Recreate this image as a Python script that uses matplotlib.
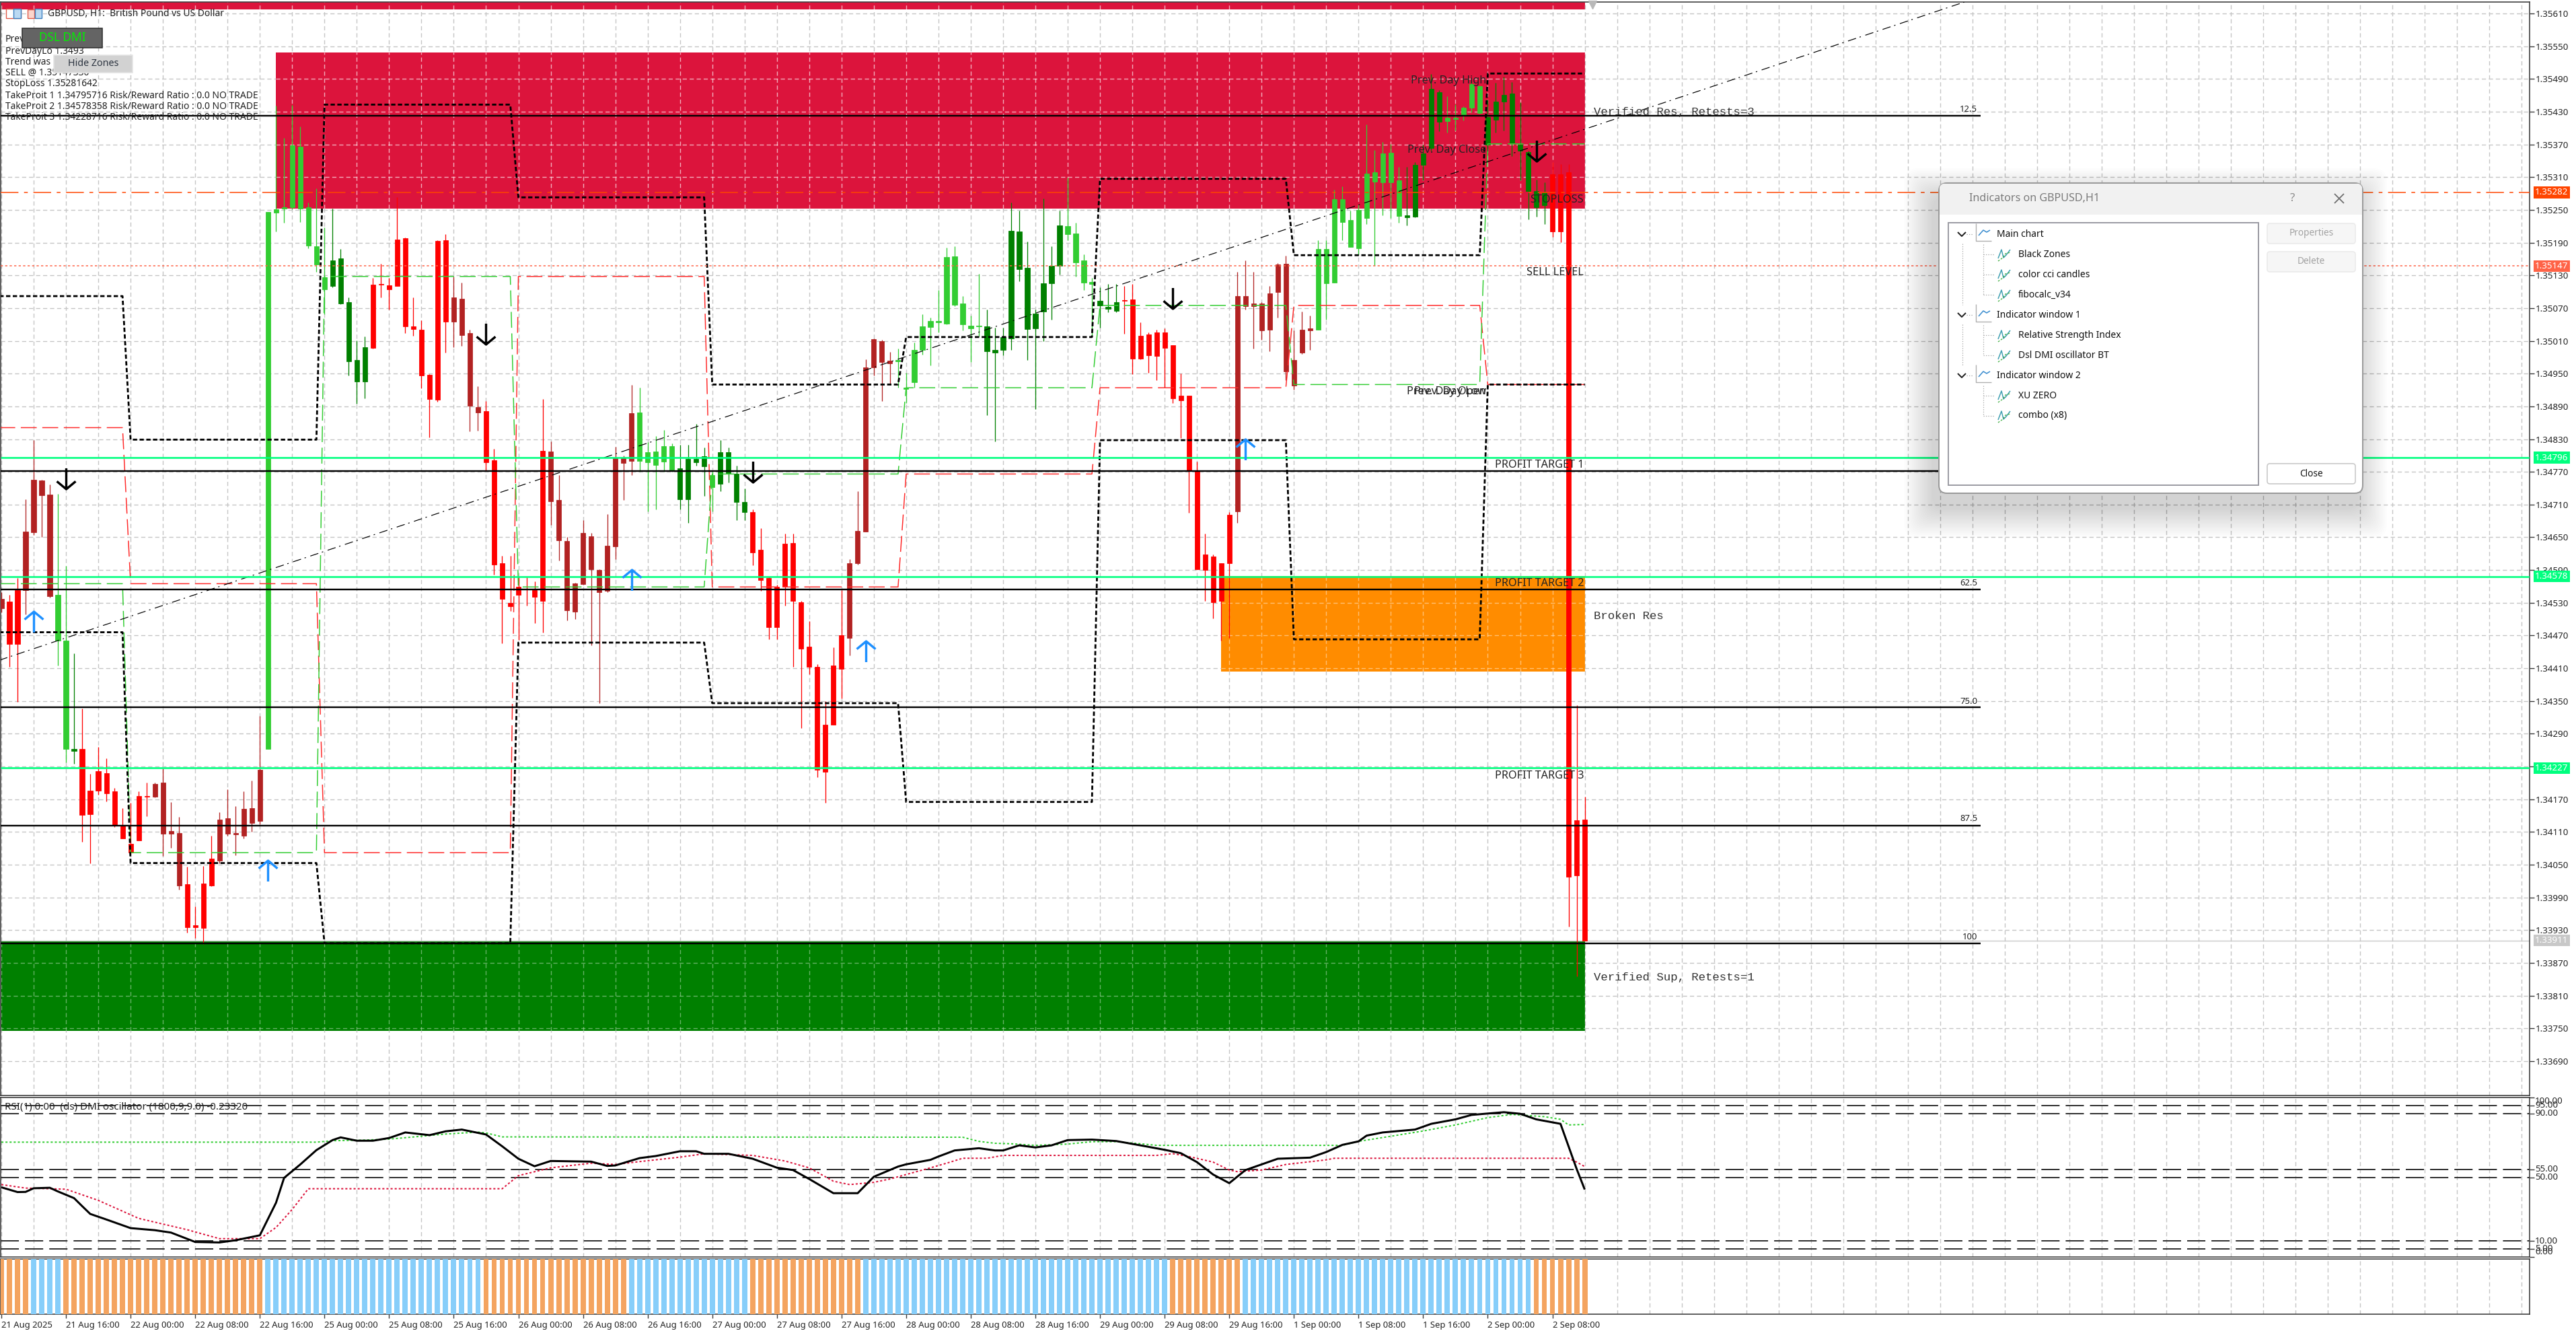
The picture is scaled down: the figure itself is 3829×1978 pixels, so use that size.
"""GBPUSD H1 terminal screenshot rebuilt with matplotlib."""
import numpy as np
import matplotlib

matplotlib.use("Agg")
import matplotlib.pyplot as plt
from matplotlib.patches import Rectangle, FancyBboxPatch
from matplotlib.path import Path

W, H = 3829, 1978
DPI = 100
PX = 72 / DPI  # one image pixel in points

plt.rcParams.update({
    "font.family": ["Noto Sans", "DejaVu Sans"],
    "lines.scale_dashes": False,
    "lines.solid_capstyle": "butt",
    "lines.dash_capstyle": "butt",
    "axes.axisbelow": True,
})

# ---------------------------------------------------------------------------
# Candles, in points above 1.33000
# ---------------------------------------------------------------------------
BODY_TOP = [
    1537, 1532, 1553, 1660, 1756, 1754, 1728, 1545, 1461, 1262,
    1262, 1186, 1222, 1218, 1184, 1121, 1088, 1176, 1176, 1198,
    1200, 1112, 1108, 1014, 939, 1015, 1061, 1133, 1135, 1108,
    1152, 1154, 1224, 2246, 2251, 2255, 2368, 2366, 2255, 2183,
    2127, 2157, 2161, 2081, 1975, 1998, 2113, 2114, 2112, 2196,
    2198, 2037, 2031, 1948, 2193, 2194, 2089, 2087, 2024, 1889,
    1881, 1791, 1602, 1530, 1559, 1556, 1553, 1808, 1807, 1719,
    1643, 1566, 1658, 1652, 1590, 1634, 1795, 1795, 1878, 1879,
    1806, 1807, 1817, 1817, 1776, 1794, 1794, 1798, 1764, 1806,
    1806, 1767, 1715, 1696, 1627, 1575, 1559, 1638, 1640, 1531,
    1449, 1413, 1306, 1415, 1470, 1602, 1662, 1961, 2013, 2009,
    1974, 1975, 1924, 1994, 2037, 2046, 2046, 2163, 2165, 2078,
    2038, 2038, 2037, 1994, 2017, 2212, 2210, 2144, 2060, 2116,
    2147, 2222, 2220, 2207, 2157, 2118, 2084, 2072, 2081, 2085,
    2086, 2019, 2022, 2026, 2026, 2002, 1910, 1910, 1772, 1619,
    1615, 1602, 1691, 2092, 2092, 2079, 2079, 2097, 2150, 2151,
    1975, 2031, 2033, 2179, 2179, 2270, 2270, 2231, 2250, 2316,
    2319, 2353, 2355, 2304, 2240, 2332, 2353, 2472, 2466, 2419,
    2419, 2437, 2480, 2477, 2420, 2448, 2461, 2463, 2370, 2356,
    2284, 2282, 2315, 2315, 2319, 1131, 1133,
]
BODY_BOT = [
    1520, 1454, 1454, 1553, 1659, 1727, 1542, 1461, 1262, 1259,
    1141, 1142, 1186, 1181, 1121, 1098, 1072, 1095, 1174, 1174,
    1107, 1107, 1012, 935, 935, 934, 1012, 1057, 1107, 1106,
    1103, 1127, 1130, 1262, 2245, 2253, 2255, 2253, 2184, 2150,
    2104, 2111, 2078, 1972, 1936, 1936, 1997, 2113, 2104, 2111,
    2036, 2032, 1947, 1904, 1902, 2045, 2045, 2021, 1891, 1879,
    1788, 1600, 1537, 1524, 1545, 1555, 1541, 1533, 1716, 1644,
    1516, 1514, 1564, 1592, 1549, 1552, 1633, 1786, 1790, 1790,
    1788, 1783, 1789, 1772, 1720, 1720, 1787, 1780, 1742, 1748,
    1768, 1715, 1696, 1622, 1572, 1485, 1485, 1559, 1534, 1446,
    1413, 1224, 1220, 1307, 1409, 1466, 1602, 1661, 1961, 1971,
    1969, 1972, 1922, 1934, 1993, 2035, 2044, 2042, 2076, 2040,
    2033, 2036, 1991, 1989, 1993, 2015, 2141, 2032, 2033, 2064,
    2116, 2148, 2206, 2154, 2117, 2114, 2075, 2069, 2065, 2083,
    1977, 1977, 1983, 1982, 1997, 1905, 1901, 1771, 1592, 1590,
    1531, 1533, 1602, 1698, 2074, 2074, 2029, 2030, 2099, 1954,
    1928, 1988, 2029, 2030, 2116, 2117, 2228, 2182, 2180, 2235,
    2302, 2301, 2300, 2239, 2236, 2237, 2332, 2364, 2411, 2413,
    2416, 2424, 2437, 2428, 2370, 2415, 2448, 2373, 2358, 2284,
    2255, 2259, 2210, 2211, 1028, 1030, 911,
]
WICK_HI = [
    1550, 1544, 1575, 1720, 1828, 1756, 1747, 1729, 1597, 1437,
    1336, 1217, 1266, 1245, 1191, 1154, 1163, 1185, 1201, 1201,
    1226, 1165, 1138, 1046, 974, 1047, 1103, 1146, 1188, 1157,
    1185, 1204, 1323, 2246, 2441, 2382, 2442, 2403, 2264, 2290,
    2218, 2253, 2179, 2089, 2011, 2018, 2125, 2151, 2125, 2273,
    2199, 2089, 2048, 1949, 2194, 2206, 2128, 2117, 2030, 1927,
    1900, 1812, 1616, 1616, 1578, 1576, 1569, 1904, 1826, 1764,
    1651, 1567, 1682, 1658, 1591, 1693, 1816, 1800, 1929, 1924,
    1825, 1836, 1847, 1822, 1820, 1819, 1858, 1814, 1773, 1828,
    1815, 1781, 1739, 1701, 1666, 1578, 1563, 1657, 1657, 1534,
    1496, 1418, 1350, 1448, 1553, 1610, 1734, 1976, 2015, 2012,
    1990, 1996, 1951, 2007, 2059, 2053, 2103, 2181, 2183, 2092,
    2056, 2133, 2067, 2034, 2034, 2264, 2249, 2192, 2067, 2271,
    2183, 2249, 2309, 2226, 2169, 2125, 2108, 2114, 2114, 2111,
    2114, 2044, 2026, 2031, 2033, 2002, 1950, 1910, 1789, 1657,
    1619, 1603, 1696, 2136, 2158, 2136, 2081, 2111, 2152, 2166,
    2029, 2064, 2056, 2194, 2194, 2287, 2293, 2249, 2260, 2407,
    2360, 2374, 2371, 2329, 2329, 2337, 2370, 2499, 2469, 2458,
    2444, 2440, 2486, 2478, 2452, 2483, 2494, 2484, 2447, 2359,
    2305, 2301, 2337, 2334, 2334, 1342, 1174,
]
WICK_LO = [
    1512, 1412, 1349, 1509, 1654, 1651, 1540, 1415, 1237, 1235,
    1092, 1052, 1178, 1166, 1119, 1098, 1069, 1094, 1139, 1173,
    1066, 1081, 1004, 926, 916, 905, 1010, 1053, 1103, 1067,
    1098, 1111, 1124, 1262, 2211, 2227, 2251, 2228, 2180, 2136,
    2059, 2108, 2077, 1947, 1895, 1905, 1996, 2089, 2067, 2110,
    2024, 2019, 1923, 1833, 1899, 1989, 1998, 2001, 1844, 1846,
    1773, 1581, 1456, 1515, 1462, 1525, 1493, 1476, 1673, 1607,
    1498, 1500, 1563, 1452, 1346, 1550, 1610, 1718, 1764, 1770,
    1698, 1701, 1770, 1770, 1701, 1676, 1781, 1726, 1698, 1734,
    1751, 1682, 1682, 1599, 1552, 1463, 1463, 1525, 1413, 1300,
    1399, 1210, 1163, 1306, 1355, 1433, 1600, 1660, 1946, 1900,
    1929, 1924, 1896, 1924, 1985, 1965, 2026, 2040, 2073, 2029,
    1971, 2018, 1874, 1826, 1983, 1993, 2119, 1975, 1885, 2009,
    2049, 2132, 2194, 2128, 2103, 2018, 2034, 2062, 2062, 2023,
    1949, 1976, 1951, 1938, 1924, 1896, 1832, 1695, 1591, 1534,
    1501, 1461, 1465, 1676, 2067, 1996, 2012, 1991, 2053, 1938,
    1921, 1986, 1994, 2030, 2049, 2117, 2195, 2182, 2167, 2224,
    2147, 2240, 2235, 2227, 2221, 2236, 2304, 2359, 2394, 2392,
    2395, 2414, 2429, 2426, 2356, 2392, 2395, 2349, 2304, 2233,
    2238, 2224, 2200, 2191, 937, 845, 911,
]
COLOR_CODES = list("BRBLGRBRBLGRBRBLGLGRBLGLGRBLGLGR")
COLOR_COUNTS = [1, 2, 4, 2, 1, 9, 4, 4, 6, 8, 5, 10, 4, 8, 11, 5, 4, 1, 4, 12,
                6, 11, 10, 4, 3, 14, 10, 11, 5, 5, 8, 5]
CANDLE_COLORS = {"L": "#32CD32", "G": "#008000", "R": "#FF0000", "B": "#B22222"}

# Daily levels: first bar of each day, then its high / low / open-close lines
DAY_START = [-2, 16, 40, 64, 88, 112, 136, 160, 184]
DAY_END = [15, 39, 63, 87, 111, 135, 159, 183, 196]
DAY_HIGH = [2092, 1829, 2443, 2273, 1930, 2017, 2307, 2167, 2500]
DAY_LOW = [1476, 1053, 906, 1457, 1346, 1165, 1828, 1463, 1930]
DAY_RED = [1851, 1565, 1072, 2128, 1559, 1766, 1924, 2075, 1930]
DAY_GREEN = [1565, 1072, 2128, 1559, 1766, 1924, 2075, 1930, 2371]

# Arrow signals
DOWN_BARS = [8, 60, 93, 145, 190]
DOWN_PTS = [1758, 2023, 1770, 2088, 2359]
UP_BARS = [4, 33, 78, 107, 154]
UP_PTS = [1495, 1039, 1572, 1441, 1811]

# Zones: first bar, last bar, top, bottom, colour, how strongly the grid shows through
ZONE_FIRST = [-2, 34, 151, -2]
ZONE_LAST = [196, 196, 196, 196]
ZONE_TOP = [2660, 2539, 1579, 911]
ZONE_BOTTOM = [2617, 2253, 1404, 746]
ZONE_COLORS = ["#DC143C", "#DC143C", "#FF8C00", "#008000"]
ZONE_GRID_ALPHA = [0.65, 0.65, 0.45, 0.4]

# Horizontal levels
FIB_LEVELS = [2422, 1771, 1555, 1339, 1122, 906]
TARGET_LEVELS = [1796, 1578, 1227]
STOP_LEVEL = 2282
SELL_LEVEL = 2147
BID_LEVEL = 911
FIB_LAST_BAR = 245
TREND_BARS = [-1, 243]
TREND_PTS = [1421, 2631]

PRICE_TICKS = [1.35610 - 0.0006 * k for k in range(33)]
TIME_BARS = list(range(0, 193, 8))
TIME_LABELS = [
    "21 Aug 2025", "21 Aug 16:00", "22 Aug 00:00", "22 Aug 08:00", "22 Aug 16:00",
    "25 Aug 00:00", "25 Aug 08:00", "25 Aug 16:00", "26 Aug 00:00", "26 Aug 08:00",
    "26 Aug 16:00", "27 Aug 00:00", "27 Aug 08:00", "27 Aug 16:00", "28 Aug 00:00",
    "28 Aug 08:00", "28 Aug 16:00", "29 Aug 00:00", "29 Aug 08:00", "29 Aug 16:00",
    "1 Sep 00:00", "1 Sep 08:00", "1 Sep 16:00", "2 Sep 00:00", "2 Sep 08:00",
]

# Oscillator panel
DMI_BARS = [0, 2, 3, 4, 6, 7, 9, 10, 11, 13, 16, 19, 21, 24, 27, 29, 32, 34, 35, 37, 39,
            41, 42, 44, 46, 48, 50, 53, 55, 57, 60, 62, 64, 66, 68, 73, 75, 76, 79, 81,
            84, 86, 87, 90, 93, 96, 98, 100, 103, 106, 108, 111, 112, 115, 116, 118, 121,
            123, 124, 126, 128, 130, 132, 135, 138, 141, 144, 146, 148, 150, 152, 154,
            158, 162, 164, 166, 168, 169, 171, 175, 177, 180, 182, 186, 188, 190, 193,
            195, 196]
DMI_VALS = [43.7, 40.7, 40.8, 43.1, 43.4, 41.1, 36.9, 31.9, 27.0, 23.5, 18.1, 16.8, 15.3,
            9.4, 9.1, 10.5, 13.6, 34.0, 49.6, 58.0, 67.0, 73.3, 75.0, 72.9, 72.9, 74.6,
            78.1, 76.4, 78.8, 79.9, 76.8, 69.4, 61.6, 56.9, 60.2, 59.8, 57.1, 57.4, 62.0,
            63.3, 66.3, 66.3, 64.7, 64.7, 61.6, 56.0, 54.5, 48.9, 40.0, 40.0, 50.3, 56.7,
            58.1, 60.9, 63.0, 66.8, 68.2, 66.8, 66.8, 70.0, 68.7, 70.0, 73.3, 73.6, 72.7,
            70.0, 67.2, 65.1, 59.5, 51.7, 46.3, 54.5, 61.6, 62.3, 65.8, 70.3, 72.5, 76.1,
            78.1, 79.9, 83.5, 86.3, 89.1, 90.8, 89.8, 86.3, 83.5, 55.2, 42.3]
UPPER_BARS = [0, 39, 41, 45, 48, 52, 55, 59, 60, 62, 119, 121, 123, 125, 128, 132, 135,
              138, 141, 143, 166, 168, 172, 176, 180, 184, 187, 191, 193, 194, 196]
UPPER_VALS = [72.0, 72.0, 72.9, 73.3, 73.9, 75.7, 77.1, 78.3, 77.8, 75.3, 75.1, 72.5, 71.3,
              71.0, 70.0, 70.8, 72.3, 72.3, 71.0, 70.0, 70.0, 72.5, 75.7, 79.0, 82.8, 87.4,
              89.4, 88.0, 86.3, 82.8, 83.1]
LOWER_BARS = [0, 3, 8, 12, 17, 23, 27, 32, 34, 36, 38, 62, 64, 68, 73, 76, 79, 84, 87, 93,
              97, 100, 103, 105, 108, 110, 112, 115, 117, 119, 122, 124, 143, 145, 147, 150,
              152, 153, 156, 159, 164, 165, 194, 195, 196]
LOWER_VALS = [45.4, 43.2, 42.5, 35.5, 24.2, 17.1, 11.5, 11.5, 18.5, 29.8, 42.8, 42.8, 51.0,
              55.9, 58.8, 58.0, 59.8, 62.6, 64.7, 63.7, 60.2, 55.9, 47.5, 45.4, 46.8, 48.9,
              51.7, 55.9, 58.8, 61.9, 61.9, 63.7, 63.7, 64.8, 63.0, 59.5, 54.5, 53.5, 54.5,
              58.0, 60.9, 61.9, 61.9, 59.5, 56.7]
DMI_LEVELS = [95, 90, 55, 50, 10, 5]
DMI_LABELS = ["100.00", "95.00", "90.00", "55.00", "50.00", "10.00", "5.00", "0.00"]
DMI_LABEL_VALS = [100, 95, 90, 55, 50, 10, 5, 0]

# Histogram panel: colour runs per bar
HIST_CODES = list("OSOSOSOSOSO")
HIST_COUNTS = [4, 4, 25, 27, 18, 15, 14, 38, 9, 36, 7]
HIST_COLORS = {"O": "#F4A460", "S": "#87CEFA"}

# Text drawn on the chart
INFO_LINES = ["Prev", "PrevDayLo 1.3493", "Trend was", "SELL @ 1.35147330",
              "StopLoss 1.35281642",
              "TakeProit 1 1.34795716 Risk/Reward Ratio : 0.0 NO TRADE",
              "TakeProit 2 1.34578358 Risk/Reward Ratio : 0.0 NO TRADE",
              "TakeProit 3 1.34228716 Risk/Reward Ratio : 0.0 NO TRADE"]
TREE_LABELS = ["Main chart", "Black Zones", "color cci candles", "fibocalc_v34",
               "Indicator window 1", "Relative Strength Index", "Dsl DMI oscillator BT",
               "Indicator window 2", "XU ZERO", "combo (x8)"]
TREE_HEADER = [True, False, False, False, True, False, False, True, False, False]

BAR_PX = 12.008
FIRST_PX = 2
RIGHT_PX = 3760
GRID_COLOR = "#c6c6c6"
GRID_DASH = (0, (4.5, 3))
EDGE = "#3c3c3c"
TXT = 9.6
INFO_TXT = 10
LABEL_TXT = 11.7


def to_price(pts):
    return 1.33 + np.asarray(pts, dtype=float) * 1e-5


def px_axes(fig, x0, y0, x1, y1, **kw):
    return fig.add_axes([x0 / W, 1 - y1 / H, (x1 - x0) / W, (y1 - y0) / H], **kw)


def style_panel(ax):
    ax.set_xlim((1 - FIRST_PX) / BAR_PX, (RIGHT_PX - FIRST_PX) / BAR_PX)
    ax.set_xticks(np.arange(0, 314, 4))
    ax.xaxis.grid(True, color=GRID_COLOR, lw=1.4 * PX, ls=GRID_DASH)
    ax.tick_params(axis="x", length=0, labelbottom=False)
    for s in ax.spines.values():
        s.set_color(EDGE)
        s.set_linewidth(1.6 * PX)


fig = plt.figure(figsize=(W / DPI, H / DPI), dpi=DPI, facecolor="white")
ax = px_axes(fig, 1, 3, RIGHT_PX, 1628)
ax_dmi = px_axes(fig, 1, 1631, RIGHT_PX, 1868)
ax_hist = px_axes(fig, 1, 1871, RIGHT_PX, 1953)
over = fig.add_axes([0, 0, 1, 1], zorder=20)
over.set_xlim(0, W)
over.set_ylim(H, 0)
over.axis("off")

# ---------------------------------------------------------------------------
# Main chart
# ---------------------------------------------------------------------------
style_panel(ax)
ax.set_ylim(to_price(627), to_price(2631))
ax.yaxis.tick_right()
ax.set_yticks(PRICE_TICKS)
ax.set_yticklabels([f"{p:.5f}" for p in PRICE_TICKS], fontsize=TXT, color="#222222")
ax.tick_params(axis="y", length=7 * PX, width=1.4 * PX, color=EDGE, pad=1.5 * PX)
ax.yaxis.grid(True, color=GRID_COLOR, lw=1.4 * PX, ls=GRID_DASH)

for first, last, top, bot, col, alpha in zip(ZONE_FIRST, ZONE_LAST, ZONE_TOP, ZONE_BOTTOM,
                                             ZONE_COLORS, ZONE_GRID_ALPHA):
    rect = Rectangle((first, to_price(bot)), last - first, to_price(top) - to_price(bot),
                     fc=col, ec="none", zorder=1)
    ax.add_patch(rect)
    # grid shows through the zones as pale dashes
    hl = ax.hlines(PRICE_TICKS, first, last, color="white", alpha=alpha, lw=1.4 * PX,
                   ls=GRID_DASH, zorder=1.5)
    vl = ax.vlines(np.arange(0, 197, 4), to_price(bot), to_price(top), color="white",
                   alpha=alpha, lw=1.4 * PX, ls=GRID_DASH, zorder=1.5)
    hl.set_clip_path(rect)
    vl.set_clip_path(rect)

bars = np.arange(len(BODY_TOP))
colors = [CANDLE_COLORS[c] for c, n in zip(COLOR_CODES, COLOR_COUNTS) for _ in range(n)]
ax.vlines(bars, to_price(WICK_LO), to_price(WICK_HI), colors=colors, lw=1.3 * PX, zorder=3)
ax.bar(bars, to_price(BODY_TOP) - to_price(BODY_BOT), bottom=to_price(BODY_BOT), width=0.6,
       color=colors, edgecolor=colors, linewidth=0.8 * PX, zorder=3.2)


def day_line(values):
    xs, ys = [], []
    for a, b, v in zip(DAY_START, DAY_END, values):
        xs += [a, b]
        ys += [v, v]
    return xs, to_price(ys)


for values, col in ((DAY_RED, "#FF2A2A"), (DAY_GREEN, "#32CD32")):
    xs, ys = day_line(values)
    ax.plot(xs, ys, color=col, lw=1.5 * PX, ls=(0, (17, 6)), zorder=3.6)
for values in (DAY_HIGH, DAY_LOW):
    xs, ys = day_line(values)
    ax.plot(xs, ys, color="black", lw=2.8 * PX, ls=(0, (4.6, 2.6)), zorder=3.8)

ax.plot(TREND_BARS, to_price(TREND_PTS), color="black", lw=1.2 * PX,
        ls=(0, (9, 4, 1.5, 5)), zorder=3.9)
ax.axhline(to_price(BID_LEVEL), color="#c8c8c8", lw=1.4 * PX, zorder=2)
ax.axhline(to_price(STOP_LEVEL), color="#FF4500", lw=1.5 * PX, ls=(0, (19, 6, 4, 6)), zorder=4)
ax.axhline(to_price(SELL_LEVEL), color="#FF6347", lw=1.5 * PX, ls=(0, (2.4, 2.4)), zorder=4)
ax.hlines(to_price(FIB_LEVELS), -1, FIB_LAST_BAR, color="black", lw=2.4 * PX, zorder=4.2)
for lvl in TARGET_LEVELS:
    ax.axhline(to_price(lvl), color="#00FF7F", lw=2.6 * PX, zorder=4.4)

down_arrow = Path([(0, 1), (0, -1), (-0.9, -0.25), (0, -1), (0.9, -0.25)],
                  [Path.MOVETO, Path.LINETO, Path.MOVETO, Path.LINETO, Path.LINETO])
up_arrow = Path([(0, -1), (0, 1), (-0.9, 0.25), (0, 1), (0.9, 0.25)],
                [Path.MOVETO, Path.LINETO, Path.MOVETO, Path.LINETO, Path.LINETO])
ax.plot(DOWN_BARS, to_price(DOWN_PTS), ls="none", marker=down_arrow, ms=31 * PX, mfc="none",
        mec="black", mew=3.4 * PX, zorder=5)
ax.plot(UP_BARS, to_price(UP_PTS), ls="none", marker=up_arrow, ms=31 * PX, mfc="none",
        mec="#1E90FF", mew=3.4 * PX, zorder=5)

# Price labels with coloured boxes on the axis
for pts, txt, fc in ((STOP_LEVEL, "1.35282", "#FF4500"), (SELL_LEVEL, "1.35147", "#FF6347"),
                     (1796, "1.34796", "#00FF7F"), (1578, "1.34578", "#00FF7F"),
                     (1227, "1.34227", "#00FF7F"), (BID_LEVEL, "1.33911", "#c8c8c8")):
    ax.annotate(txt, (1, to_price(pts)), xycoords=("axes fraction", "data"),
                xytext=(8 * PX, 0), textcoords="offset points", va="center", ha="left",
                fontsize=TXT, color="white", annotation_clip=False,
                bbox=dict(boxstyle="square,pad=0.16", fc=fc, ec="none"))

# ---------------------------------------------------------------------------
# Oscillator panel
# ---------------------------------------------------------------------------
style_panel(ax_dmi)
ax_dmi.set_ylim(0, 100)
ax_dmi.yaxis.tick_right()
ax_dmi.set_yticks(DMI_LABEL_VALS)
ax_dmi.set_yticklabels([])
ax_dmi.tick_params(axis="y", length=7 * PX, width=1.4 * PX, color=EDGE)
for lvl in DMI_LEVELS:
    ax_dmi.axhline(lvl, color="#333333", lw=2 * PX, ls=(0, (19.5, 6.5)), zorder=2)
ax_dmi.plot(UPPER_BARS, UPPER_VALS, color="#32CD32", lw=2 * PX, ls=(0, (2.2, 2.2)), zorder=3)
ax_dmi.plot(LOWER_BARS, LOWER_VALS, color="#DC143C", lw=2 * PX, ls=(0, (2.2, 2.2)), zorder=3)
ax_dmi.plot(DMI_BARS, DMI_VALS, color="black", lw=3 * PX, zorder=4)
for txt, val in zip(DMI_LABELS, DMI_LABEL_VALS):
    off = {100: 6, 0: -8, 5: -1}.get(val, 0)  # the terminal nudges labels at the panel edge
    ax_dmi.annotate(txt, (1, val), xycoords=("axes fraction", "data"),
                    xytext=(8 * PX, -off * PX), textcoords="offset points", va="center",
                    fontsize=TXT, color="#222222", annotation_clip=False)
ax_dmi.text(6 / (RIGHT_PX - 1), 0.94, "RSI(1) 0.00  (ds) DMI oscillator (1800,9,9.0) -0.23320",
            transform=ax_dmi.transAxes, fontsize=10.9, color="#222222", va="center", zorder=6)

# ---------------------------------------------------------------------------
# Histogram panel
# ---------------------------------------------------------------------------
style_panel(ax_hist)
ax_hist.set_ylim(0, 1)
ax_hist.set_yticks([])
hist_cols = [HIST_COLORS[c] for c, n in zip(HIST_CODES, HIST_COUNTS) for _ in range(n)]
ax_hist.bar(bars, np.ones(len(bars)), width=0.66, color=hist_cols, zorder=3)
ax_hist.set_xticks(TIME_BARS, minor=False)
ax_hist.set_xticks(np.arange(0, 314, 4), minor=True)
ax_hist.xaxis.grid(True, which="both", color=GRID_COLOR, lw=1.4 * PX, ls=GRID_DASH)
ax_hist.tick_params(axis="x", which="major", length=6 * PX, width=1.4 * PX, color=EDGE,
                    labelbottom=True, pad=4 * PX)
ax_hist.tick_params(axis="x", which="minor", length=0)
ax_hist.set_xticklabels(TIME_LABELS, ha="left", fontsize=9.4, color="#222222")

# ---------------------------------------------------------------------------
# Text and controls over the chart
# ---------------------------------------------------------------------------
for y, s in zip([58, 76, 92, 108, 125, 142, 158, 175], INFO_LINES):
    over.text(8, y, s, fontsize=INFO_TXT, va="center", color="#222222", zorder=2)
over.text(71, 20, "GBPUSD, H1:  British Pound vs US Dollar", fontsize=INFO_TXT, va="center",
          color="#222222", zorder=2)
over.add_patch(Rectangle((9, 13), 22, 14, fc="white", ec="#E05A4A", lw=1.4 * PX, zorder=2))
over.add_patch(Rectangle((20, 13), 11, 14, fc="#BBD9F2", ec="#3C7FC0", lw=1.4 * PX, zorder=2))
over.add_patch(Rectangle((41, 14), 10, 13, fc="#FBD5CC", ec="#E05A4A", lw=1.4 * PX, zorder=2))
over.add_patch(Rectangle((52, 13), 10, 14, fc="#BBD9F2", ec="#3C7FC0", lw=1.4 * PX, zorder=2))

over.add_patch(Rectangle((33, 42), 119, 29, fc="#646464", ec="#303030", lw=1.6 * PX, zorder=3))
over.text(92.5, 56, "DSL DMI", fontsize=12.5, color="#00F000", ha="center", va="center", zorder=4)
over.add_patch(Rectangle((80, 82), 117, 26, fc="#D2D2D2", ec="#E4E4E4", lw=1.6 * PX, zorder=3))
over.text(138.5, 95, "Hide Zones", fontsize=10.3, color="#2C3440", ha="center", va="center", zorder=4)

for s, y in (("Prev. Day High", 120), ("Prev. Day Close", 223), ("Prev. Day Open", 582),
             ("Prev. Day Low", 582)):
    over.text(2209, y, s, fontsize=LABEL_TXT, ha="right", va="center", color="#222222", zorder=2)
for s, y in (("STOPLOSS", 297), ("SELL LEVEL", 405), ("PROFIT TARGET 1", 691),
             ("PROFIT TARGET 2", 867), ("PROFIT TARGET 3", 1153)):
    over.text(2354, y, s, fontsize=LABEL_TXT, ha="right", va="center", color="#222222", zorder=2)
for s, y in (("12.5", 163), ("62.5", 866), ("75.0", 1042), ("87.5", 1217), ("100", 1392)):
    over.text(2939, y, s, fontsize=9.4, ha="right", va="center", color="#222222", zorder=2)
for s, y in (("Verified Res, Retests=3", 167), ("Broken Res", 916),
             ("Verified Sup, Retests=1", 1453)):
    over.text(2369, y, s, fontsize=12.5, family="Liberation Mono", va="center",
              color="#333333", zorder=2)
over.plot([2367], [7], marker="v", ms=9, color="#b8b8b8", zorder=2)

# ---------------------------------------------------------------------------
# Indicators dialog
# ---------------------------------------------------------------------------
DX0, DY0, DX1, DY1 = 2882, 272, 3512, 733
for k in range(22):
    pad = 44 - 2 * k
    over.add_patch(FancyBboxPatch((DX0 - pad - 8, DY0 - pad + 22), DX1 - DX0 + 2 * pad,
                                  DY1 - DY0 + 2 * pad, boxstyle="round,pad=0,rounding_size=20",
                                  fc="black", ec="none", alpha=0.007, zorder=5))
over.add_patch(FancyBboxPatch((DX0, DY0), DX1 - DX0, DY1 - DY0,
                              boxstyle="round,pad=0,rounding_size=12", fc="white",
                              ec="#9a9a9a", lw=2 * PX, zorder=6))
title_bg = Rectangle((DX0 + 1, DY0 + 1), DX1 - DX0 - 2, 318 - DY0, fc="#F1F1F1", ec="none", zorder=6.1)
over.add_patch(title_bg)
title_bg.set_clip_path(FancyBboxPatch((DX0, DY0), DX1 - DX0, DY1 - DY0,
                                      boxstyle="round,pad=0,rounding_size=12",
                                      transform=over.transData))
over.text(2927, 295, "Indicators on GBPUSD,H1", fontsize=11.6, color="#7c7c7c", va="center", zorder=7)
over.text(3407, 295, "?", fontsize=12, color="#8a8a8a", ha="center", va="center", zorder=7)
over.plot([3470, 3484], [288, 302], color="#707070", lw=1.8 * PX, zorder=7)
over.plot([3470, 3484], [302, 288], color="#707070", lw=1.8 * PX, zorder=7)
over.add_patch(Rectangle((2896, 331), 461, 390, fc="white", ec="#9c9ca4", lw=2 * PX, zorder=6.5))

for y0, s, fc, ec, tc in ((332, "Properties", "#F6F6F6", "#EAEAEA", "#A2A2A2"),
                          (374, "Delete", "#F6F6F6", "#EAEAEA", "#A2A2A2"),
                          (689, "Close", "white", "#C8C8C8", "#111111")):
    over.add_patch(FancyBboxPatch((3370, y0), 131, 30, boxstyle="round,pad=0,rounding_size=4",
                                  fc=fc, ec=ec, lw=1.6 * PX, zorder=6.5))
    over.text(3435.5, y0 + 15, s, fontsize=9.8, color=tc, ha="center", va="center", zorder=7)


def indicator_icon(x, y):
    over.plot([x - 9, x - 4, x - 1, x + 3, x + 9], [y + 6, y - 7, y + 5, y + 1, y - 7],
              color="#3f9fb0", lw=1.5 * PX, zorder=7)
    over.plot([x - 9, x - 2, x + 2, x + 9], [y + 10, y + 5, y - 1, y - 3], color="#44b044",
              lw=1.3 * PX, ls=(0, (2, 1.5)), zorder=7)


tree_y = 348
for s, head in zip(TREE_LABELS, TREE_HEADER):
    if head:
        over.plot([2910, 2916, 2922], [tree_y - 3, tree_y + 3, tree_y - 3], color="#222222",
                  lw=2 * PX, zorder=7)
        over.plot([2923, 2932], [tree_y, tree_y], color="#aaaaaa", lw=1.2 * PX, ls=(0, (1, 1.5)), zorder=7)
        over.plot([2937, 2937, 2960], [tree_y - 16, tree_y + 10, tree_y + 10], color="#b0b0b0",
                  lw=1.4 * PX, zorder=7)
        over.plot([2941, 2948, 2953, 2958], [tree_y + 2, tree_y - 6, tree_y - 3, tree_y - 6],
                  color="#3f8fd0", lw=1.6 * PX, zorder=7)
        over.text(2968, tree_y, s, fontsize=10, color="#111111", va="center", zorder=7)
    else:
        over.plot([2948, 2964], [tree_y, tree_y], color="#aaaaaa", lw=1.2 * PX, ls=(0, (1, 1.5)), zorder=7)
        indicator_icon(2979, tree_y)
        over.text(2999.5, tree_y, s, fontsize=10, color="#111111", va="center", zorder=7)
    tree_y += 30
for x, y0, y1 in ((2917, 362, 453), (2917, 482, 543), (2948, 363, 438), (2948, 483, 528),
                  (2948, 573, 618)):
    over.plot([x, x], [y0, y1], color="#aaaaaa", lw=1.2 * PX, ls=(0, (1, 1.5)), zorder=7)

fig.savefig("out.png", dpi=DPI)
